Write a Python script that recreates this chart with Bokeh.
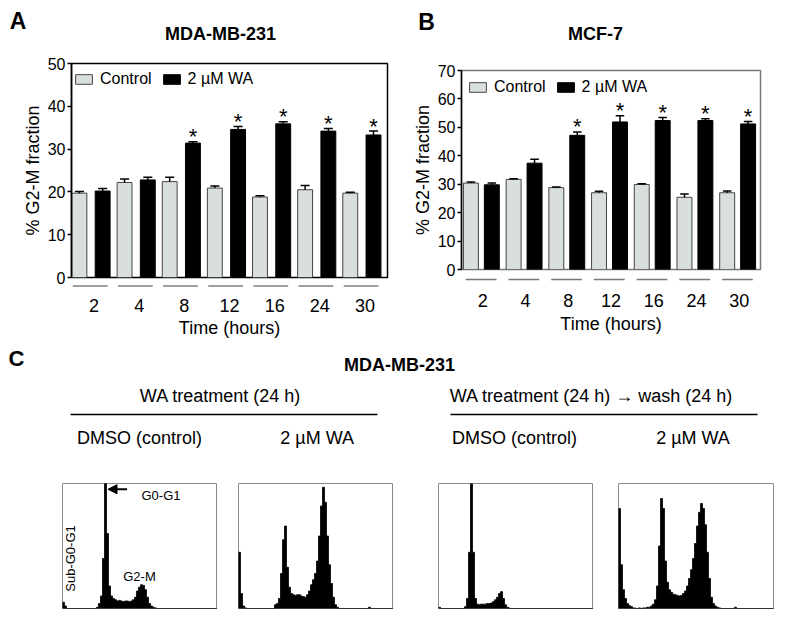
import math
from bokeh.plotting import figure
from bokeh.models import (Range1d, FactorRange, FixedTicker, Legend, LegendItem,
                          Arrow, NormalHead, ColumnDataSource)
from bokeh.transform import dodge
from bokeh.layouts import column, row
from bokeh.core.properties import value
from bokeh.embed import file_html
from bokeh.resources import INLINE

FONT = "Liberation Sans"

# ---------------- data ----------------
hours = ["2", "4", "8", "12", "16", "24", "30"]

a_control = [19.7, 22.2, 22.4, 20.9, 18.8, 20.5, 19.7]
a_control_err = [0.4, 0.8, 1.0, 0.5, 0.3, 1.0, 0.2]
a_wa = [20.2, 22.8, 31.4, 34.6, 35.9, 34.2, 33.3]
a_wa_err = [0.6, 0.6, 0.3, 0.7, 0.5, 0.6, 0.9]
a_sig = [False, False, True, True, True, True, True]
a_ticks = [0, 10, 20, 30, 40, 50]

b_control = [30.4, 31.7, 28.8, 27.0, 29.9, 25.4, 27.0]
b_control_err = [0.4, 0.2, 0.2, 0.5, 0.3, 1.2, 0.6]
b_wa = [29.8, 37.4, 47.2, 51.9, 52.4, 52.4, 51.2]
b_wa_err = [0.6, 1.4, 1.2, 2.2, 1.1, 0.6, 0.9]
b_sig = [False, False, True, True, True, True, True]
b_ticks = [0, 10, 20, 30, 40, 50, 60, 70]

# DNA-content histograms (relative counts, 2-channel bins)
hist_dmso_24 = [5, 2] + [0] * 15 + [1, 4, 10, 40, 100, 60, 18, 10, 8, 7, 6, 6.5, 6, 5.5, 6, 6, 5.5, 6,
                                   7, 9, 14, 17, 19, 18.5, 15, 9, 4, 2, 1, 0.5] + [0] * 31
hist_wa_24 = [45, 12, 2, 0.5] + [0] * 14 + [3, 4, 8, 28, 55, 66, 33, 17, 12, 11, 10.5, 11, 11, 10, 9.5, 9,
                                            11, 14, 19, 23, 28, 38, 58, 82, 97, 85, 58, 35, 20, 9, 3, 1] \
    + [0] * 15 + [1] + [0] * 12
hist_dmso_wash = [1] + [0] * 12 + [1.5, 8, 45, 100, 45, 8, 3.5, 3, 3.5, 3.5, 3.5, 4, 4, 4.5, 5.5, 7, 9,
                                   12, 13.5, 8, 3, 1, 0.3] + [0] * 42
hist_wa_wash = [80, 35, 15, 8, 4, 2.5, 1.5, 0.5, 0.3, 0, 0.5, 0, 0.5, 0.5, 1, 1, 2, 3.5, 7, 18, 50, 88,
                80, 38, 21, 15, 13, 11.5, 11, 10.5, 10, 10.5, 12, 14, 18, 24, 31, 40, 52, 66, 77, 84,
                80, 67, 45, 24, 9, 4, 2, 1, 0.5] + [0] * 7 + [1] + [0] * 19
BIN = 2

CTRL_FILL = "#d9dfdd"


def strip(width, y0, y1):
    f = figure(width=width, height=y1 - y0, x_range=Range1d(0, width), y_range=Range1d(y1, y0),
               output_backend="svg", toolbar_location=None, min_border=0,
               x_axis_location=None, y_axis_location=None)
    f.grid.visible = False
    f.outline_line_color = None
    return f


def txt(f, x, y, s, size, bold=False, angle=0, align="center"):
    f.text(x=[x], y=[y], text=[s], text_font=value(FONT), text_font_size=size,
           text_font_style="bold" if bold else "normal", text_align=align,
           text_baseline="middle", angle=angle, text_color="black")


def bar_panel(width, height, left, right, top, bottom, ymax, ticks, ctrl, ctrl_err, wa, wa_err, sig,
              c_off, w_off, bw, outline, legend_loc):
    src = ColumnDataSource(dict(hours=hours, ctrl=ctrl, wa=wa,
                                ctrl_top=[v + e for v, e in zip(ctrl, ctrl_err)],
                                wa_top=[v + e for v, e in zip(wa, wa_err)]))
    p = figure(width=width, height=height, x_range=FactorRange(factors=hours, range_padding=0),
               y_range=Range1d(0, ymax), output_backend="svg", toolbar_location=None,
               min_border_left=left, min_border_right=right, min_border_top=top,
               min_border_bottom=bottom, x_axis_location=None)
    p.grid.visible = False
    p.outline_line_color = outline
    p.outline_line_width = 1.5
    r1 = p.vbar(x=dodge("hours", c_off, range=p.x_range), top="ctrl", bottom=0, width=bw,
                fill_color=CTRL_FILL, line_color="#444444", line_width=1, source=src)
    r2 = p.vbar(x=dodge("hours", w_off, range=p.x_range), top="wa", bottom=0, width=bw,
                fill_color="black", line_color="black", line_width=1, source=src)
    for off, lo, hi in [(c_off, "ctrl", "ctrl_top"), (w_off, "wa", "wa_top")]:
        p.segment(x0=dodge("hours", off, range=p.x_range), y0=lo,
                  x1=dodge("hours", off, range=p.x_range), y1=hi,
                  line_color="black", line_width=1.5, source=src)
        p.segment(x0=dodge("hours", off - 0.1, range=p.x_range), y0=hi,
                  x1=dodge("hours", off + 0.1, range=p.x_range), y1=hi,
                  line_color="black", line_width=1.5, source=src)
    ssrc = ColumnDataSource(dict(
        hours=[h for h, s in zip(hours, sig) if s],
        y=[v + e for v, e, s in zip(wa, wa_err, sig) if s]))
    p.text(x=dodge("hours", w_off, range=p.x_range), y="y", text=value("*"), source=ssrc,
           text_font=value(FONT), text_font_size="22px", text_align="center",
           text_baseline="middle", y_offset=-5)
    ax = p.yaxis[0]
    ax.ticker = FixedTicker(ticks=ticks)
    ax.axis_label = "% G2-M fraction"
    ax.axis_label_text_font = FONT
    ax.axis_label_text_font_size = "18px"
    ax.axis_label_text_font_style = "normal"
    ax.axis_label_text_color = "black"
    ax.axis_label_standoff = 2
    ax.major_label_text_font = FONT
    ax.major_label_text_font_size = "16px"
    ax.major_label_text_color = "black"
    ax.major_label_standoff = 2
    ax.axis_line_width = 1.5
    ax.axis_line_color = "black"
    ax.major_tick_line_width = 1.5
    ax.major_tick_out = 4
    ax.major_tick_in = 0
    ax.minor_tick_line_color = None
    leg = Legend(items=[LegendItem(label="Control", renderers=[r1]),
                        LegendItem(label="2 \u00b5M WA", renderers=[r2])],
                 orientation="horizontal", location=legend_loc, border_line_color=None,
                 background_fill_alpha=0, label_text_font=FONT, label_text_font_size="16px",
                 label_text_color="black",
                 glyph_width=21, glyph_height=12, label_height=12, label_standoff=6, spacing=9,
                 padding=4, margin=0)
    p.add_layout(leg)
    return p


def under_panel(width, height, left, right, frame_h, xr, u0, u1, color, lab_standoff, ax_standoff):
    f = figure(width=width, height=height, x_range=xr, y_range=Range1d(0, 1),
               output_backend="svg", toolbar_location=None, min_border_left=left,
               min_border_right=right, min_border_top=0, min_border_bottom=height - frame_h,
               y_axis_location=None)
    f.grid.visible = False
    f.outline_line_color = None
    src = ColumnDataSource(dict(hours=hours))
    f.segment(x0=dodge("hours", u0, range=xr), y0=0.5, x1=dodge("hours", u1, range=xr), y1=0.5,
              line_color=color, line_width=1.5, source=src)
    ax = f.xaxis[0]
    ax.axis_line_color = None
    ax.major_tick_line_color = None
    ax.minor_tick_line_color = None
    ax.major_label_text_font = FONT
    ax.major_label_text_font_size = "18px"
    ax.major_label_text_color = "black"
    ax.major_label_standoff = lab_standoff
    ax.axis_label = "Time (hours)"
    ax.axis_label_text_font = FONT
    ax.axis_label_text_font_size = "18px"
    ax.axis_label_text_font_style = "normal"
    ax.axis_label_text_color = "black"
    ax.axis_label_standoff = ax_standoff
    return f


# ---------------- header (page pixel coordinates) ----------------
head = strip(785, 0, 48)
txt(head, 17.5, 20, "A", "23px", bold=True)
txt(head, 220, 33, "MDA-MB-231", "18px", bold=True)
txt(head, 426, 21, "B", "23px", bold=True)
txt(head, 595, 33, "MCF-7", "18px", bold=True)

# ---------------- panel A / B ----------------
pa = bar_panel(400, 237, 71, 13, 15, 8, 50, a_ticks, a_control, a_control_err, a_wa, a_wa_err, a_sig,
               -0.325, 0.19, 0.33, "black", (2, 189))
pau = under_panel(400, 55, 71, 13, 4, pa.x_range, -0.47, 0.30, "black", 6, 3)

pb = bar_panel(385, 229, 61, 25, 22, 8, 70, b_ticks, b_control, b_control_err, b_wa, b_wa_err, b_sig,
               -0.28, 0.21, 0.35, "#777777", (6, 173))
pbu = under_panel(385, 63, 61, 25, 4, pb.x_range, -0.40, 0.32, "#777777", 6, 4)

# ---------------- panel C header ----------------
hc = strip(785, 340, 470)
txt(hc, 16, 357.5, "C", "22px", bold=True)
txt(hc, 399, 364, "MDA-MB-231", "18px", bold=True)
txt(hc, 220, 395, "WA treatment (24 h)", "18px")
txt(hc, 591, 395, "WA treatment (24 h) \u2192 wash (24 h)", "18px")
hc.segment(x0=[70, 450], y0=[414, 414], x1=[377, 757], y1=[414, 414], line_color="black", line_width=1.5)
txt(hc, 139, 437, "DMSO (control)", "18px")
txt(hc, 316.7, 437, "2 \u00b5M WA", "18px")
txt(hc, 514, 437, "DMSO (control)", "18px")
txt(hc, 692.5, 437, "2 \u00b5M WA", "18px")


def hist_fig(width, left, right, counts):
    f = figure(width=width, height=143, x_range=Range1d(0, 155), y_range=Range1d(0, 100),
               output_backend="svg", toolbar_location=None, min_border_left=left,
               min_border_right=right, min_border_top=13, min_border_bottom=5,
               x_axis_location=None, y_axis_location=None)
    f.grid.visible = False
    f.outline_line_color = "#8a8a8a"
    f.outline_line_width = 1
    xs, ys = [0], [0]
    for i, c in enumerate(counts):
        xs += [BIN * i, BIN * (i + 1)]
        ys += [c, c]
    xs.append(BIN * len(counts))
    ys.append(0)
    f.patch(xs, ys, fill_color="black", line_color="black", line_width=0.8)
    return f


h1 = hist_fig(217, 62, 0, hist_dmso_24)
h1.add_layout(Arrow(end=NormalHead(size=9, fill_color="black", line_color="black"),
                    x_start=64.5, y_start=95.4, x_end=45.5, y_end=95.4,
                    line_color="black", line_width=2))
txt(h1, 98.5, 90.6, "G0-G1", "13px")
txt(h1, 77, 26, "G2-M", "13px")
txt(h1, 7.7, 40, "Sub-G0-G1", "13px", angle=math.pi / 2)
h2 = hist_fig(176, 21, 0, hist_wa_24)
h3 = hist_fig(200, 45, 0, hist_dmso_wash)
h4 = hist_fig(192, 25, 12, hist_wa_wash)

page = column(head,
              row(column(pa, pau), column(pb, pbu)),
              hc,
              row(h1, h2, h3, h4))

open("out.html", "w").write(file_html(page, INLINE))
